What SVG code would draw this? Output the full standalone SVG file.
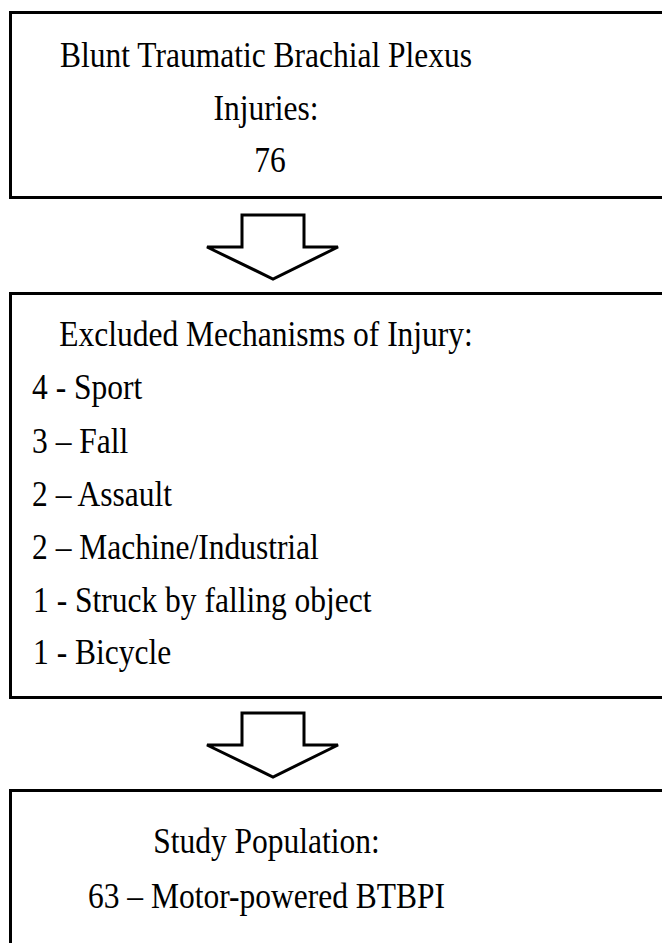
<svg xmlns="http://www.w3.org/2000/svg" width="662" height="943" viewBox="0 0 662 943">
<style>
.box{fill:#fff;stroke:#000;stroke-width:3}
.arr{fill:#fff;stroke:#000;stroke-width:3;stroke-linejoin:miter}
.t{font-family:"Liberation Serif","Times New Roman",serif;font-size:35px;fill:#000}
.c{text-anchor:middle}
</style>
<defs>
<path id="arrow-shape" d="M242,215 H304 V247 H338 L273,279 L207,247 H242 Z"/>
</defs>
<rect width="662" height="943" fill="#fff"/>
<g id="node-total">
<rect class="box" x="10.5" y="12.5" width="700" height="185"/>
<g class="t c" transform="scale(0.9,1)">
<text x="295.6" y="67">Blunt Traumatic Brachial Plexus</text>
<text x="295.6" y="120">Injuries:</text>
<text x="300" y="172">76</text>
</g>
</g>
<g id="node-excluded">
<rect class="box" x="10.5" y="293.5" width="700" height="404"/>
<g class="t" transform="scale(0.9,1)">
<text class="c" x="295.6" y="346">Excluded Mechanisms of Injury:</text>
<text x="35.6" y="399">4 - Sport</text>
<text x="35.6" y="453">3 – Fall</text>
<text x="35.6" y="506">2 – Assault</text>
<text x="35.6" y="559">2 – Machine/Industrial</text>
<text x="36.7" y="612">1 - Struck by falling object</text>
<text x="36.7" y="664">1 - Bicycle</text>
</g>
</g>
<g id="node-study">
<rect class="box" x="10.5" y="790.5" width="700" height="200"/>
<g class="t c" transform="scale(0.9,1)">
<text x="296.1" y="853">Study Population:</text>
<text x="296.1" y="908">63 – Motor-powered BTBPI</text>
</g>
</g>
<g id="connectors">
<use class="arr" href="#arrow-shape"/>
<use class="arr" href="#arrow-shape" transform="translate(0,498)"/>
</g>
</svg>
